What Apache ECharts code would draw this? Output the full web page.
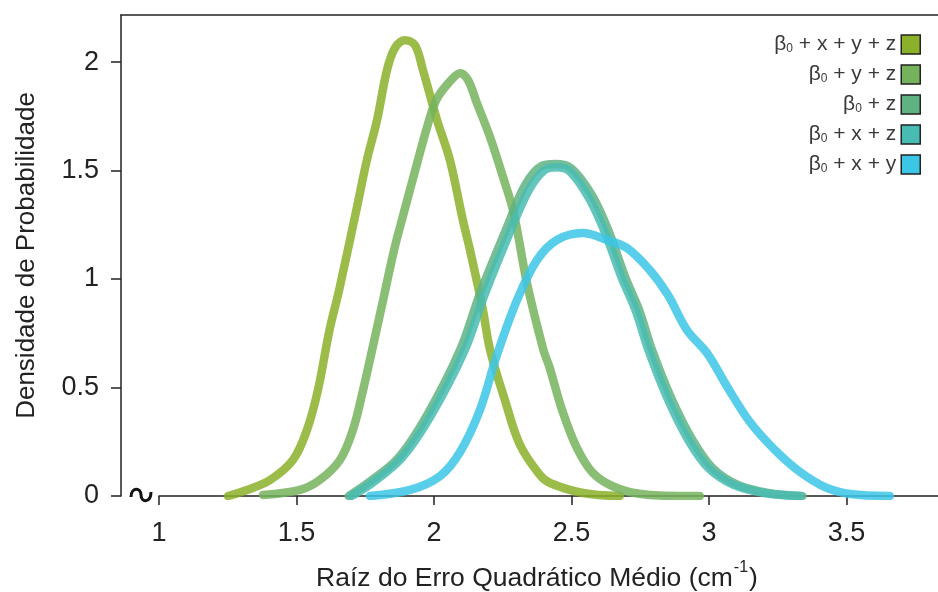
<!DOCTYPE html>
<html>
<head>
<meta charset="utf-8">
<script src="https://cdn.jsdelivr.net/npm/echarts@6/dist/echarts.min.js"></script>
<style>html,body{margin:0;padding:0;background:#fff}#c{width:938px;height:592px}</style>
</head>
<body>
<div id="c"></div>
<script>
// ---- data ----
const seriesNames = ['β0 + x + y + z', 'β0 + y + z', 'β0 + z', 'β0 + x + z', 'β0 + x + y'];
const colors = ['#8bb02a', '#74b35c', '#5fb383', '#48bcb2', '#3cc6e6'];
const xTicks = [1, 1.5, 2, 2.5, 3, 3.5];
const yTicks = [0, 0.5, 1, 1.5, 2];

const x1 = [1.251, 1.32, 1.404, 1.487, 1.538, 1.578, 1.62, 1.655, 1.72, 1.756, 1.793, 1.829, 1.858, 1.895, 1.931, 1.96, 2.011, 2.058, 2.105, 2.131, 2.178, 2.204, 2.258, 2.313, 2.385, 2.422, 2.542, 2.676];
const y1 = [0, 0.028, 0.074, 0.166, 0.304, 0.488, 0.765, 0.949, 1.332, 1.548, 1.733, 1.963, 2.065, 2.101, 2.078, 1.963, 1.733, 1.548, 1.272, 1.134, 0.857, 0.673, 0.442, 0.235, 0.097, 0.06, 0.014, 0];

const x2 = [1.378, 1.513, 1.585, 1.658, 1.705, 1.738, 1.775, 1.815, 1.855, 1.89, 1.932, 1.972, 2.008, 2.056, 2.095, 2.124, 2.156, 2.204, 2.251, 2.29, 2.338, 2.398, 2.42, 2.466, 2.518, 2.578, 2.665, 2.785, 2.967];
const y2 = [0.005, 0.028, 0.074, 0.166, 0.304, 0.465, 0.673, 0.903, 1.134, 1.304, 1.502, 1.687, 1.825, 1.908, 1.949, 1.917, 1.811, 1.654, 1.47, 1.304, 0.982, 0.673, 0.594, 0.396, 0.226, 0.106, 0.037, 0.005, 0];

const x3 = [1.69, 1.76, 1.87, 1.975, 2.095, 2.168, 2.266, 2.33, 2.39, 2.44, 2.5, 2.575, 2.637, 2.695, 2.746, 2.793, 2.866, 2.94, 3.013, 3.105, 3.215, 3.34];
const y3 = [0, 0.06, 0.175, 0.373, 0.673, 0.935, 1.24, 1.43, 1.52, 1.53, 1.51, 1.385, 1.215, 1.01, 0.857, 0.673, 0.442, 0.258, 0.129, 0.051, 0.014, 0];

const x4 = [1.70, 1.775, 1.883, 1.99, 2.112, 2.186, 2.284, 2.345, 2.40, 2.445, 2.495, 2.565, 2.625, 2.683, 2.733, 2.78, 2.852, 2.925, 2.998, 3.09, 3.2, 3.33];
const y4 = [0, 0.06, 0.175, 0.373, 0.673, 0.935, 1.24, 1.41, 1.50, 1.515, 1.495, 1.37, 1.205, 1.005, 0.857, 0.673, 0.442, 0.258, 0.129, 0.051, 0.014, 0];

const x5 = [1.767, 1.913, 2.022, 2.095, 2.167, 2.229, 2.302, 2.375, 2.447, 2.542, 2.629, 2.702, 2.785, 2.851, 2.92, 2.993, 3.069, 3.149, 3.24, 3.331, 3.422, 3.513, 3.658];
const y5 = [0, 0.028, 0.092, 0.203, 0.396, 0.65, 0.903, 1.088, 1.18, 1.212, 1.18, 1.143, 1.041, 0.926, 0.765, 0.659, 0.498, 0.341, 0.212, 0.111, 0.041, 0.009, 0];

const xsAll = [x1, x2, x3, x4, x5];
const ysAll = [y1, y2, y3, y4, y5];

// ---- chart ----
const FONT = '"Liberation Sans", Arial, sans-serif';
const chart = echarts.init(document.getElementById('c'), null, {renderer: 'canvas'});
const axisColor = '#222';

const series = seriesNames.map((name, i) => ({
  name: name,
  type: 'line',
  data: xsAll[i].map((x, j) => [x, ysAll[i][j]]),
  smooth: 0.35,
  showSymbol: false,
  symbol: 'none',
  color: colors[i],
  lineStyle: {width: 8.5, color: colors[i], opacity: 0.85, cap: 'round', join: 'round'},
  itemStyle: {color: colors[i]},
  emphasis: {disabled: true},
  z: 2
}));

chart.setOption({
  animation: false,
  backgroundColor: '#fff',
  textStyle: {fontFamily: FONT},
  grid: {left: 159, right: 0, top: 15, bottom: 96},
  title: {
    text: '{a|Raíz do Erro Quadrático Médio (cm}{s|-1}{a|)}',
    left: 532, top: 555, textAlign: 'center',
    textStyle: {
      fontWeight: 'normal',
      rich: {
        a: {fontSize: 26.5, color: '#222', fontFamily: FONT, fontWeight: 'normal', lineHeight: 32, verticalAlign: 'bottom'},
        s: {fontSize: 16, color: '#222', fontFamily: FONT, fontWeight: 'normal', lineHeight: 32, verticalAlign: 'top', padding: [0, 1, 0, 1]}
      }
    }
  },
  legend: {
    data: seriesNames,
    orient: 'vertical',
    right: 12, top: 29,
    align: 'right',
    icon: 'rect',
    itemWidth: 19, itemHeight: 19,
    itemGap: 9,
    itemStyle: {borderColor: '#222', borderWidth: 1.5, opacity: 1},
    selectedMode: false,
    formatter: name => '{b|β}{s|0}{b|' + name.slice(2) + '}',
    textStyle: {
      color: '#3a3a3a',
      rich: {
        b: {fontSize: 21, color: '#3a3a3a', fontFamily: FONT, lineHeight: 21},
        s: {fontSize: 12, color: '#3a3a3a', fontFamily: FONT, lineHeight: 9, verticalAlign: 'bottom'}
      }
    }
  },
  xAxis: {
    type: 'value',
    min: 1, max: 3.833,
    axisLine: {show: true, onZero: false, lineStyle: {color: axisColor, width: 1.5}},
    axisTick: {show: true, length: 9, customValues: xTicks, lineStyle: {color: axisColor, width: 1.5}},
    axisLabel: {customValues: xTicks, fontSize: 27, color: '#222', margin: 24, fontFamily: FONT},
    splitLine: {show: false}
  },
  yAxis: {
    type: 'value',
    min: 0, max: 2.217,
    offset: 38,
    name: 'Densidade de Probabilidade',
    nameLocation: 'middle',
    nameGap: 81,
    nameTextStyle: {fontSize: 26, color: '#222', fontFamily: FONT},
    axisLine: {show: true, onZero: false, lineStyle: {color: axisColor, width: 1.5}},
    axisTick: {show: true, length: 10, customValues: yTicks, lineStyle: {color: axisColor, width: 1.5}},
    axisLabel: {customValues: yTicks, fontSize: 27, color: '#222', margin: 22, fontFamily: FONT},
    splitLine: {show: false}
  },
  graphic: [
    {type: 'line', shape: {x1: 120.5, y1: 15, x2: 938, y2: 15}, style: {stroke: axisColor, lineWidth: 1.5}, silent: true},
    {type: 'bezierCurve', shape: {x1: 131, y1: 497, cpx1: 131, cpy1: 487, cpx2: 141, cpy2: 487, x2: 141, y2: 495}, style: {stroke: '#111', lineWidth: 3, fill: null}, silent: true},
    {type: 'bezierCurve', shape: {x1: 141, y1: 495, cpx1: 141, cpy1: 503, cpx2: 151, cpy2: 503, x2: 151, y2: 492}, style: {stroke: '#111', lineWidth: 3, fill: null}, silent: true}
  ],
  series: series
});
</script>
</body>
</html>
